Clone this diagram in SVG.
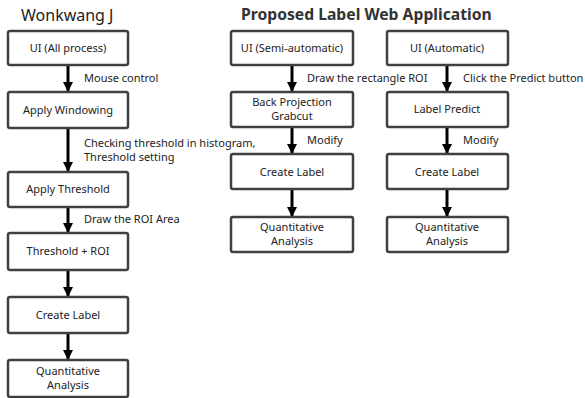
<svg xmlns="http://www.w3.org/2000/svg" width="585" height="398" viewBox="0 0 585 398">
<defs>
<style>
.box{fill:#fff;stroke:#404040;stroke-width:2.5}
.t{font-family:"Noto Sans","Liberation Sans",sans-serif;font-size:11px;fill:#222;text-anchor:middle}
.l{font-family:"Noto Sans","Liberation Sans",sans-serif;font-size:11px;fill:#222}
.h{font-family:"Noto Sans","Liberation Sans",sans-serif;font-size:16px;fill:#222}
.hb{font-family:"Noto Sans","Liberation Sans",sans-serif;font-size:15.7px;font-weight:bold;fill:#333}
.c{stroke:#000;stroke-width:3;fill:none}
</style>
<marker id="ah" viewBox="0 0 10 10" refX="10" refY="5" markerWidth="10" markerHeight="10" markerUnits="userSpaceOnUse" orient="auto">
<path d="M0,0 L10,5 L0,10 z" fill="#000"/>
</marker>
</defs>
<rect width="585" height="398" fill="#fff"/>
<text class="h" x="21" y="21">Wonkwang J</text>
<text class="hb" x="241" y="20">Proposed Label Web Application</text>

<g id="connectors">
<line class="c" x1="68" y1="65" x2="68" y2="92" marker-end="url(#ah)"/>
<line class="c" x1="68" y1="128" x2="68" y2="172" marker-end="url(#ah)"/>
<line class="c" x1="68" y1="207" x2="68" y2="233" marker-end="url(#ah)"/>
<line class="c" x1="68" y1="270" x2="68" y2="297" marker-end="url(#ah)"/>
<line class="c" x1="68" y1="333" x2="68" y2="360" marker-end="url(#ah)"/>
<line class="c" x1="292" y1="65" x2="292" y2="92" marker-end="url(#ah)"/>
<line class="c" x1="292" y1="127" x2="292" y2="154" marker-end="url(#ah)"/>
<line class="c" x1="292" y1="189" x2="292" y2="217" marker-end="url(#ah)"/>
<line class="c" x1="447" y1="65" x2="447" y2="92" marker-end="url(#ah)"/>
<line class="c" x1="447" y1="127" x2="447" y2="154" marker-end="url(#ah)"/>
<line class="c" x1="447" y1="189" x2="447" y2="217" marker-end="url(#ah)"/>
<text class="l" x="84" y="82">Mouse control</text>
<text class="l" x="84" y="147">Checking threshold in histogram,</text>
<text class="l" x="84" y="161">Threshold setting</text>
<text class="l" x="84" y="223">Draw the ROI Area</text>
<text class="l" x="307" y="82">Draw the rectangle ROI</text>
<text class="l" x="463" y="82">Click the Predict button</text>
<text class="l" x="307" y="144">Modify</text>
<text class="l" x="463" y="144">Modify</text>
</g>

<g id="n1"><rect class="box" x="8" y="31" width="120" height="34" rx="2"/><text class="t" x="68" y="52">UI (All process)</text></g>
<g id="n2"><rect class="box" x="8" y="92" width="120" height="36" rx="2"/><text class="t" x="68" y="114">Apply Windowing</text></g>
<g id="n3"><rect class="box" x="8" y="172" width="120" height="35" rx="2"/><text class="t" x="68" y="193">Apply Threshold</text></g>
<g id="n4"><rect class="box" x="8" y="233" width="120" height="37" rx="2"/><text class="t" x="68" y="255">Threshold + ROI</text></g>
<g id="n5"><rect class="box" x="8" y="297" width="120" height="36" rx="2"/><text class="t" x="68" y="319">Create Label</text></g>
<g id="n6"><rect class="box" x="8" y="360" width="120" height="37" rx="2"/><text class="t" x="68" y="375">Quantitative</text><text class="t" x="68" y="389">Analysis</text></g>

<g id="m1"><rect class="box" x="231" y="31" width="122" height="34" rx="2"/><text class="t" x="292" y="52">UI (Semi-automatic)</text></g>
<g id="m2"><rect class="box" x="231" y="92" width="122" height="35" rx="2"/><text class="t" x="292" y="106">Back Projection</text><text class="t" x="292" y="120">Grabcut</text></g>
<g id="m3"><rect class="box" x="231" y="154" width="122" height="35" rx="2"/><text class="t" x="292" y="176">Create Label</text></g>
<g id="m4"><rect class="box" x="231" y="217" width="122" height="35" rx="2"/><text class="t" x="292" y="231">Quantitative</text><text class="t" x="292" y="245">Analysis</text></g>

<g id="r1"><rect class="box" x="387" y="31" width="121" height="34" rx="2"/><text class="t" x="447" y="52">UI (Automatic)</text></g>
<g id="r2"><rect class="box" x="387" y="92" width="121" height="35" rx="2"/><text class="t" x="447" y="113">Label Predict</text></g>
<g id="r3"><rect class="box" x="387" y="154" width="121" height="35" rx="2"/><text class="t" x="447" y="176">Create Label</text></g>
<g id="r4"><rect class="box" x="387" y="217" width="121" height="35" rx="2"/><text class="t" x="447" y="231">Quantitative</text><text class="t" x="447" y="245">Analysis</text></g>
</svg>
